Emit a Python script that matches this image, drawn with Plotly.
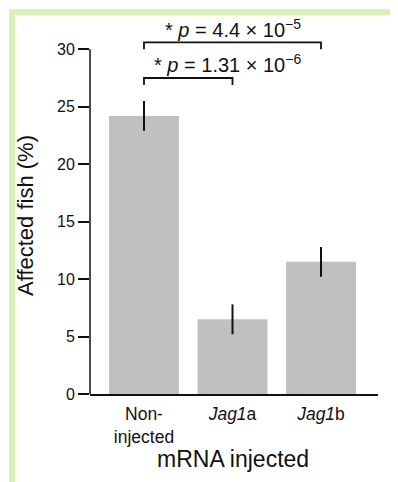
import plotly.graph_objects as go

categories = ["Non-<br>injected", "<i>Jag1</i>a", "<i>Jag1</i>b"]
values = [24.2, 6.5, 11.5]
errors = [1.3, 1.3, 1.3]
y_ticks = [0, 5, 10, 15, 20, 25, 30]
brackets = [  # (from index, to index, height, drop, label, label x, label y)
    (0, 2, 30.6, 0.6, "* <i>p</i> = 4.4 × 10<sup>−5</sup>", 1.0, 31.85),
    (0, 1, 27.5, 0.6, "* <i>p</i> = 1.31 × 10<sup>−6</sup>", 0.94, 28.8),
]

W, H = 398, 482
OFF = 8  # page body margin
# plot area on the page (pixels)
PL, PR, PT, PB = 90, 378, 20, 394
L, R, T, B = PL - OFF, W - (PR - OFF), PT - OFF, H - (PB - OFF)
px_per_unit_y = 11.49
y_top = (PB - PT) / px_per_unit_y
PW, PH = PR - PL, PB - PT


def px(xp):
    return (xp - PL) / PW


def py(yp):
    return (PB - yp) / PH


FONT = "Liberation Sans, Arial, Helvetica, sans-serif"
x_idx = list(range(len(categories)))

fig = go.Figure()
fig.add_trace(go.Bar(
    x=x_idx, y=values, width=0.79,
    marker=dict(color="#c0c0c0", line=dict(width=0)),
    error_y=dict(type="data", array=errors, visible=True, color="#111111",
                 thickness=2, width=0),
    hoverinfo="skip",
))

shapes = []
# green frame (top and left edges visible)
shapes.append(dict(type="rect", xref="paper", yref="paper",
                   x0=px(12), x1=px(440), y0=py(520), y1=py(12),
                   line=dict(color="#d9f2b6", width=6), fillcolor="rgba(0,0,0,0)",
                   layer="below"))
# y axis line from 0 to 30
shapes.append(dict(type="line", xref="paper", yref="y", x0=0, x1=0,
                   y0=y_ticks[0], y1=y_ticks[-1],
                   line=dict(color="#111111", width=1.5)))
annotations = []
for a, b, h, d, label, lx, ly in brackets:
    shapes.append(dict(type="path", xref="x", yref="y",
                       path=f"M {a},{h-d} L {a},{h} L {b},{h} L {b},{h-d}",
                       line=dict(color="#111111", width=1.8)))
    annotations.append(dict(x=lx, y=ly, xref="x", yref="y", text=label,
                            showarrow=False, xanchor="center", yanchor="middle",
                            font=dict(size=20, color="#111111", family=FONT)))

annotations.append(dict(text="Affected fish (%)", textangle=-90, showarrow=False,
                        xref="paper", yref="paper", x=px(25), y=py(216),
                        xanchor="center", yanchor="middle",
                        font=dict(size=22, color="#111111", family=FONT)))
annotations.append(dict(text="mRNA injected", showarrow=False,
                        xref="paper", yref="paper", x=px(233), y=py(459),
                        xanchor="center", yanchor="middle",
                        font=dict(size=23, color="#111111", family=FONT)))

fig.update_layout(
    width=W, height=H,
    margin=dict(l=L, r=R, t=T, b=B, pad=0),
    paper_bgcolor="white", plot_bgcolor="white",
    showlegend=False,
    font=dict(family=FONT, color="#111111"),
    shapes=shapes, annotations=annotations,
    xaxis=dict(range=[-0.61, 2.644], tickvals=x_idx, ticktext=categories,
               showline=True, linecolor="#111111", linewidth=1.5,
               ticks="outside", ticklen=3, tickcolor="rgba(0,0,0,0)",
               showgrid=False, zeroline=False,
               tickfont=dict(size=17.5, family=FONT, color="#111111")),
    yaxis=dict(range=[0, y_top], tickvals=y_ticks,
               showline=False, ticks="outside", ticklen=11, tickwidth=1.5,
               tickcolor="#111111", showgrid=False, zeroline=False,
               tickfont=dict(size=16, family=FONT, color="#111111")),
)

fig.write_html("out.html")
